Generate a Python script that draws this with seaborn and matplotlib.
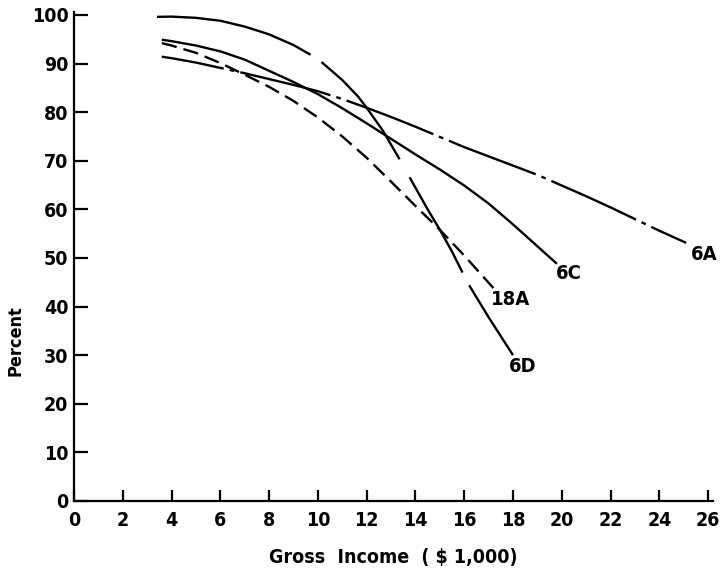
import matplotlib
matplotlib.use("Agg")
import matplotlib.pyplot as plt
from matplotlib import font_manager
import seaborn as sns
import pandas as pd

# ---- data ----
# 6D is drawn as a long-dash line: its pieces are given by segment id
x_6d = [3.4, 4, 5, 6, 7, 8, 9, 9.7,
        10.15, 11, 11.65, 12.0, 12.65, 13.35,
        13.76, 14.5, 15.0, 15.5, 15.93,
        16.2, 17.0, 18.0]
y_6d = [99.6, 99.65, 99.4, 98.8, 97.6, 96.0, 93.8, 91.8,
        90.3, 86.6, 83.2, 80.9, 76.3, 70.3,
        66.6, 60.0, 55.8, 51.3, 47.0,
        44.4, 37.8, 30.0]
seg_6d = [1] * 8 + [2] * 6 + [3] * 5 + [4] * 3

x_6c = [3.6, 4, 5, 6, 7, 8, 9, 10, 11, 12, 13, 14, 15, 16, 17, 18, 19, 19.8]
y_6c = [94.9, 94.6, 93.7, 92.5, 90.8, 88.5, 86.2, 83.7, 80.8, 77.7, 74.5, 71.3, 68.2, 64.9,
        61.2, 56.9, 52.4, 48.8]

x_6a = [3.6, 4, 5, 6, 7, 8, 9, 10, 11, 12, 13, 14, 15, 16, 17, 18, 19, 20, 21, 22, 23, 24, 25.1]
y_6a = [91.4, 91.1, 90.2, 89.1, 88.0, 86.8, 85.6, 84.3, 82.7, 80.9, 79.0, 77.0, 74.9, 72.8, 70.9,
        69.0, 67.1, 64.9, 62.7, 60.4, 58.0, 55.6, 53.1]

x_18a = [3.6, 4, 5, 6, 7, 8, 9, 10, 11, 12, 13, 14, 15, 16, 17, 17.2]
y_18a = [94.2, 93.7, 92.2, 90.1, 87.7, 85.2, 82.3, 78.9, 75.0, 70.6, 65.7, 60.7, 55.8, 50.5, 44.9, 43.8]

series_names = ["6D", "6C", "6A", "18A"]
label_x = [18.4, 20.3, 25.85, 17.9]
label_y = [27.6, 46.7, 50.8, 41.4]

x_ticks = list(range(0, 27, 2))
y_ticks = list(range(0, 101, 10))
x_label = "Gross  Income  ( $ 1,000)"
y_label = "Percent"

# ---- font: prefer a condensed / narrow face if one is installed ----
def pick_font(bold=True):
    best = None
    for f in font_manager.fontManager.ttflist:
        low = f.fname.lower()
        if ("narrow" in low or "condensed" in low) and "italic" not in low and "oblique" not in low:
            if ("bold" in low) == bold:
                if "liberation" in low:
                    return f.fname
                if best is None:
                    best = f.fname
    return best

bold_path = pick_font(True) or pick_font(False)

sns.set_theme(style="ticks")
plt.rcParams["font.family"] = ["DejaVu Sans"]


def fp(size):
    if bold_path:
        return font_manager.FontProperties(fname=bold_path, size=size)
    return font_manager.FontProperties(family="DejaVu Sans", weight="bold", size=size)


fig = plt.figure(figsize=(7.28, 5.72), dpi=100)
ax = fig.add_axes([74 / 728, 1 - 501 / 572, (713 - 74) / 728, (501 - 12) / 572])

LW = 1.7

# 6D: long dashes (pieces)
df_6d = pd.DataFrame({"x": x_6d, "y": y_6d, "seg": seg_6d})
sns.lineplot(data=df_6d, x="x", y="y", units="seg", estimator=None, ax=ax,
             color="black", sort=False, linewidth=LW, solid_capstyle="butt")

# 6C: solid
sns.lineplot(data=pd.DataFrame({"x": x_6c, "y": y_6c}), x="x", y="y", ax=ax,
             color="black", sort=False, estimator=None, linewidth=LW,
             solid_capstyle="butt")

# 6A: dash-dot
sns.lineplot(data=pd.DataFrame({"x": x_6a, "y": y_6a}), x="x", y="y", ax=ax,
             color="black", sort=False, estimator=None, linewidth=LW)
l6a = ax.lines[-1]
l6a.set_linestyle((12.7, (39.4, 2.6, 2.0, 2.6)))
l6a.set_dash_capstyle("butt")

# 18A: dashed
sns.lineplot(data=pd.DataFrame({"x": x_18a, "y": y_18a}), x="x", y="y", ax=ax,
             color="black", sort=False, estimator=None, linewidth=LW)
l18 = ax.lines[-1]
l18.set_linestyle((0, (6.5, 3.0)))
l18.set_dash_capstyle("butt")

for name, lx, ly in zip(series_names, label_x, label_y):
    ax.text(lx, ly, name, ha="center", va="center", fontproperties=fp(14.5),
            color="black")

ax.set_xlim(0, 26.2)
ax.set_ylim(0, 100.6)
ax.set_xticks(x_ticks)
ax.set_yticks(y_ticks)
ax.set_xticklabels([str(v) for v in x_ticks])
ax.set_yticklabels([str(v) for v in y_ticks])
ax.tick_params(axis="both", direction="in", length=10, width=1.6, colors="black")
ax.tick_params(axis="x", pad=7, length=8)
ax.tick_params(axis="y", pad=4)
for lab in ax.get_xticklabels() + ax.get_yticklabels():
    lab.set_fontproperties(fp(14))

sns.despine(ax=ax)
for sp in ["left", "bottom"]:
    ax.spines[sp].set_linewidth(1.6)
    ax.spines[sp].set_color("black")

ax.set_xlabel("")
ax.set_ylabel("")
fig.text(393 / 728, 1 - 557 / 572, x_label, ha="center", va="center",
         fontproperties=fp(14), color="black")
fig.text(15 / 728, 1 - 341 / 572, y_label, ha="center", va="center",
         rotation=90, fontproperties=fp(13), color="black")

ax.grid(False)
fig.savefig("out.png", dpi=100, facecolor="white")
